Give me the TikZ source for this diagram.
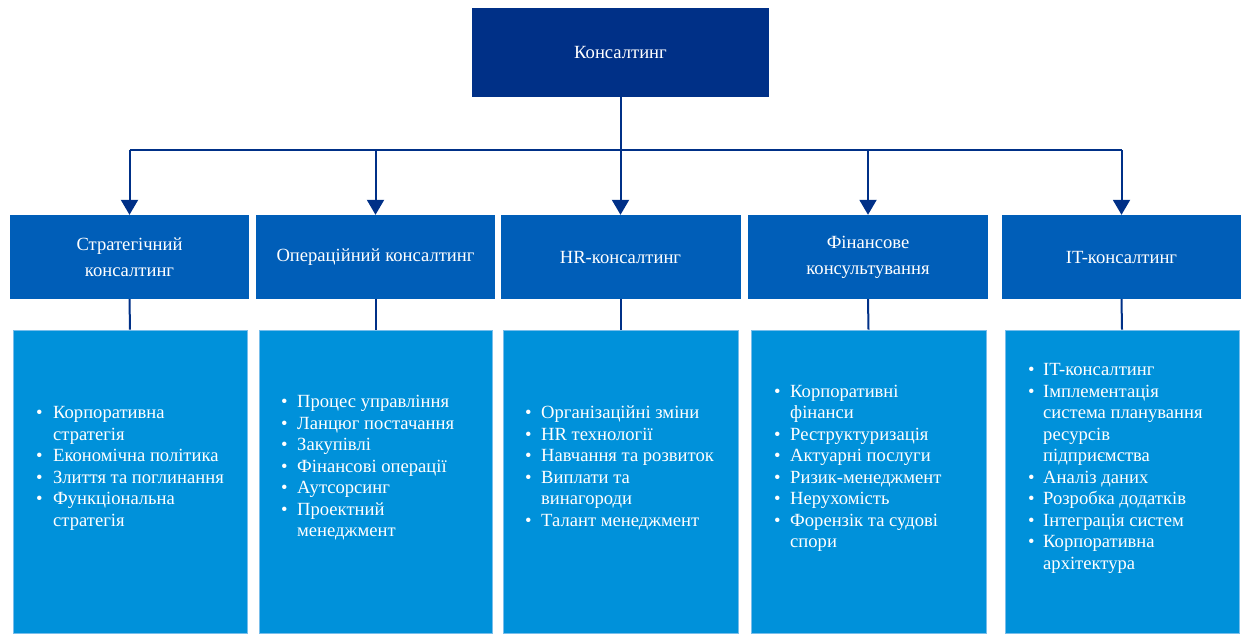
\documentclass[tikz,border=0pt]{standalone}
\usepackage{fontspec}
\setmainfont{Liberation Serif}
\usetikzlibrary{arrows.meta}
\definecolor{navy}{RGB}{0,48,135}
\definecolor{midblue}{RGB}{0,94,184}
\definecolor{lightblue}{RGB}{0,145,218}
\definecolor{edgeblue}{RGB}{120,190,235}
\begin{document}
\begin{tikzpicture}[x=1pt,y=-1pt,
  topbox/.style={fill=navy, text=white, inner sep=0pt, minimum width=297pt, minimum height=89pt, font=\fontsize{18.6}{26}\selectfont},
  catbox/.style={fill=midblue, text=white, inner sep=0pt, minimum width=239pt, minimum height=84pt, align=center, font=\fontsize{18.6}{26}\selectfont},
  listbox/.style={fill=lightblue, draw=edgeblue, line width=0.6pt, inner sep=0pt, minimum height=303pt},
  listtext/.style={text=white, inner sep=0pt, anchor=west, font=\fontsize{18.6}{21.5}\selectfont},
  conn/.style={draw=navy, line width=2pt},
  arr/.style={conn, -{Triangle[width=17pt,length=15pt]}}]
\useasboundingbox (0,0) rectangle (1244,633);

\node[topbox] (top) at (620.5,52.5) {Консалтинг};

\node[catbox] (c1) at (129.5,257) {Стратегічний\\консалтинг};
\node[catbox] (c2) at (375.5,257) {Операційний консалтинг};
\node[catbox, minimum width=240pt] (c3) at (620.5,257) {HR-консалтинг};
\node[catbox, minimum width=240pt] (c4) at (868,257) {Фінансове\\консультування};
\node[catbox] (c5) at (1121.5,257) {IT-консалтинг};

\node[listbox, minimum width=234pt] (l1) at (130,481.5) {};
\node[listbox, minimum width=233pt] (l2) at (375.5,481.5) {};
\node[listbox, minimum width=235pt] (l3) at (620.5,481.5) {};
\node[listbox, minimum width=235pt] (l4) at (868.5,481.5) {};
\node[listbox, minimum width=234pt] (l5) at (1122,481.5) {};

% bus and arrows
\coordinate (b1) at (c1.north |- 0,150);
\coordinate (b2) at (c2.north |- 0,150);
\coordinate (b4) at (c4.north |- 0,150);
\coordinate (b5) at (c5.north |- 0,150);
\draw[conn] (b1) -- (b5);
\draw[arr] (top.south) -- (c3.north);
\draw[arr] (b1) -- (c1.north);
\draw[arr] (b2) -- (c2.north);
\draw[arr] (b4) -- (c4.north);
\draw[arr] (b5) -- (c5.north);

% connectors category -> list
\draw[conn] (c1.south) -- (l1.north);
\draw[conn] (c2.south) -- (l2.north);
\draw[conn] (c3.south) -- (l3.north);
\draw[conn] (c4.south) -- (l4.north);
\draw[conn] (c5.south) -- (l5.north);

% list texts
\node[listtext] (t1) at (36,468) {\begin{tabular}{@{}p{17pt}@{}l@{}}
• & Корпоративна\\
  & стратегія\\
• & Економічна політика\\
• & Злиття та поглинання\\
• & Функціональна\\
  & стратегія
\end{tabular}};
\node[listtext] (t2) at (281,468) {\begin{tabular}{@{}p{16pt}@{}l@{}}
• & Процес управління\\
• & Ланцюг постачання\\
• & Закупівлі\\
• & Фінансові операції\\
• & Аутсорсинг\\
• & Проектний\\
  & менеджмент
\end{tabular}};
\node[listtext] (t3) at (525,468) {\begin{tabular}{@{}p{16pt}@{}l@{}}
• & Організаційні зміни\\
• & HR технології\\
• & Навчання та розвиток\\
• & Виплати та\\
  & винагороди\\
• & Талант менеджмент
\end{tabular}};
\node[listtext] (t4) at (774,468) {\begin{tabular}{@{}p{16pt}@{}l@{}}
• & Корпоративні\\
  & фінанси\\
• & Реструктуризація\\
• & Актуарні послуги\\
• & Ризик-менеджмент\\
• & Нерухомість\\
• & Форензік та судові\\
  & спори
\end{tabular}};
\node[listtext] (t5) at (1028,468) {\begin{tabular}{@{}p{15pt}@{}l@{}}
• & IT-консалтинг\\
• & Імплементація\\
  & система планування\\
  & ресурсів\\
  & підприємства\\
• & Аналіз даних\\
• & Розробка додатків\\
• & Інтеграція систем\\
• & Корпоративна\\
  & архітектура
\end{tabular}};
\end{tikzpicture}
\end{document}
